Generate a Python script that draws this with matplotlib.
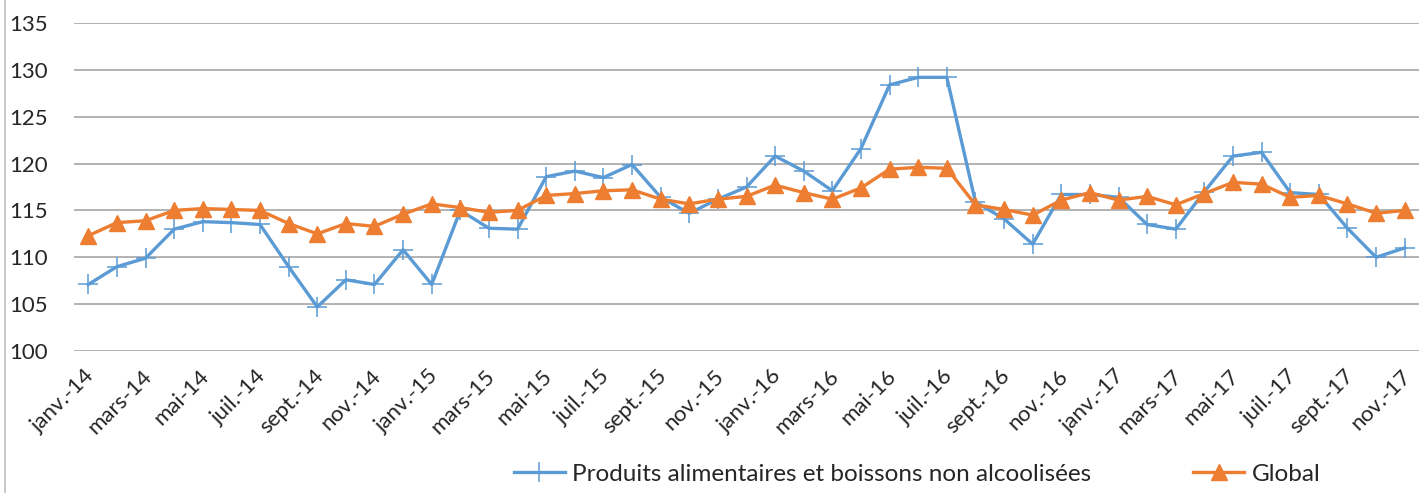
import matplotlib

matplotlib.use("Agg")
import matplotlib.pyplot as plt
from matplotlib.lines import Line2D
from matplotlib.transforms import ScaledTranslation

MONTHS = ["janv.", "févr.", "mars", "avr.", "mai", "juin",
          "juil.", "août", "sept.", "oct.", "nov.", "déc."]
YEARS = ["14", "15", "16", "17"]
LABELS = [f"{m}-{y}" for y in YEARS for m in MONTHS][:47]

ALIM = [107.1, 109.0, 109.9, 113.0, 113.8, 113.7, 113.5, 109.0, 104.7, 107.6,
        107.1, 110.8, 107.1, 115.0, 113.1, 113.0, 118.6, 119.2, 118.5, 119.9,
        116.4, 114.7, 116.2, 117.5, 120.8, 119.2, 117.1, 121.6, 128.4, 129.2,
        129.2, 115.9, 114.1, 111.4, 116.7, 116.7, 116.4, 113.5, 113.0, 117.0,
        120.8, 121.2, 116.9, 116.7, 113.1, 110.0, 111.0]
GLOBAL = [112.3, 113.7, 113.9, 115.0, 115.2, 115.1, 115.0, 113.6, 112.5, 113.6,
          113.3, 114.6, 115.7, 115.3, 114.8, 115.0, 116.6, 116.8, 117.1, 117.2,
          116.2, 115.7, 116.2, 116.5, 117.7, 116.9, 116.2, 117.4, 119.4, 119.6,
          119.5, 115.6, 115.1, 114.5, 116.1, 116.9, 116.1, 116.5, 115.6, 116.8,
          118.0, 117.8, 116.4, 116.6, 115.7, 114.7, 115.0]

BLUE = "#5B9BD5"
ORANGE = "#ED7D31"
TEXT = "#262626"
plt.rcParams["font.family"] = ["Lato", "DejaVu Sans"]

fig = plt.figure(figsize=(14.26, 4.93), dpi=100)
ax = fig.add_axes([74 / 1426, 1 - 351 / 493, (1419 - 74) / 1426, (351 - 23) / 493])

x = range(len(ALIM))
ax.plot(x, ALIM, color=BLUE, lw=2.4, marker="+", ms=15, mew=1.1, zorder=3)
ax.plot(x, GLOBAL, color=ORANGE, lw=2.4, marker="^", ms=11, zorder=4)

ax.set_xlim(-0.5, len(ALIM) - 0.5)
ax.set_ylim(100, 135)
ax.set_yticks(range(100, 136, 5))
ax.grid(axis="y", color="#A6A6A6", lw=1.2)
ax.set_axisbelow(True)
for s in ax.spines.values():
    s.set_visible(False)
ax.tick_params(axis="both", length=0)
ax.tick_params(axis="y", labelsize=16, pad=19, colors=TEXT)

ax.set_xticks(list(x)[::2])
ax.set_xticklabels(LABELS[::2], rotation=45, ha="right", va="top",
                   rotation_mode="anchor", fontsize=16, color=TEXT)
shift = ScaledTranslation(-4 / 100, -10 / 100, fig.dpi_scale_trans)
for lab in ax.get_xticklabels():
    lab.set_transform(lab.get_transform() + shift)

handles = [
    Line2D([], [], color=BLUE, lw=2.4, marker="+", ms=15, mew=1.1),
    Line2D([], [], color=ORANGE, lw=2.4, marker="^", ms=11),
]
fig.legend(handles, ["Produits alimentaires et boissons non alcoolisées", "Global"],
           loc="center", bbox_to_anchor=(917 / 1426, 1 - 474 / 493), ncol=2,
           frameon=False, fontsize=17.5, handlelength=2.1, columnspacing=4.2,
           handletextpad=0.3, labelcolor=TEXT)

fig.add_artist(Line2D([5 / 1426, 5 / 1426], [0, 1], color="#BFBFBF", lw=1.2,
                      transform=fig.transFigure))

fig.savefig("out.png", dpi=100)
